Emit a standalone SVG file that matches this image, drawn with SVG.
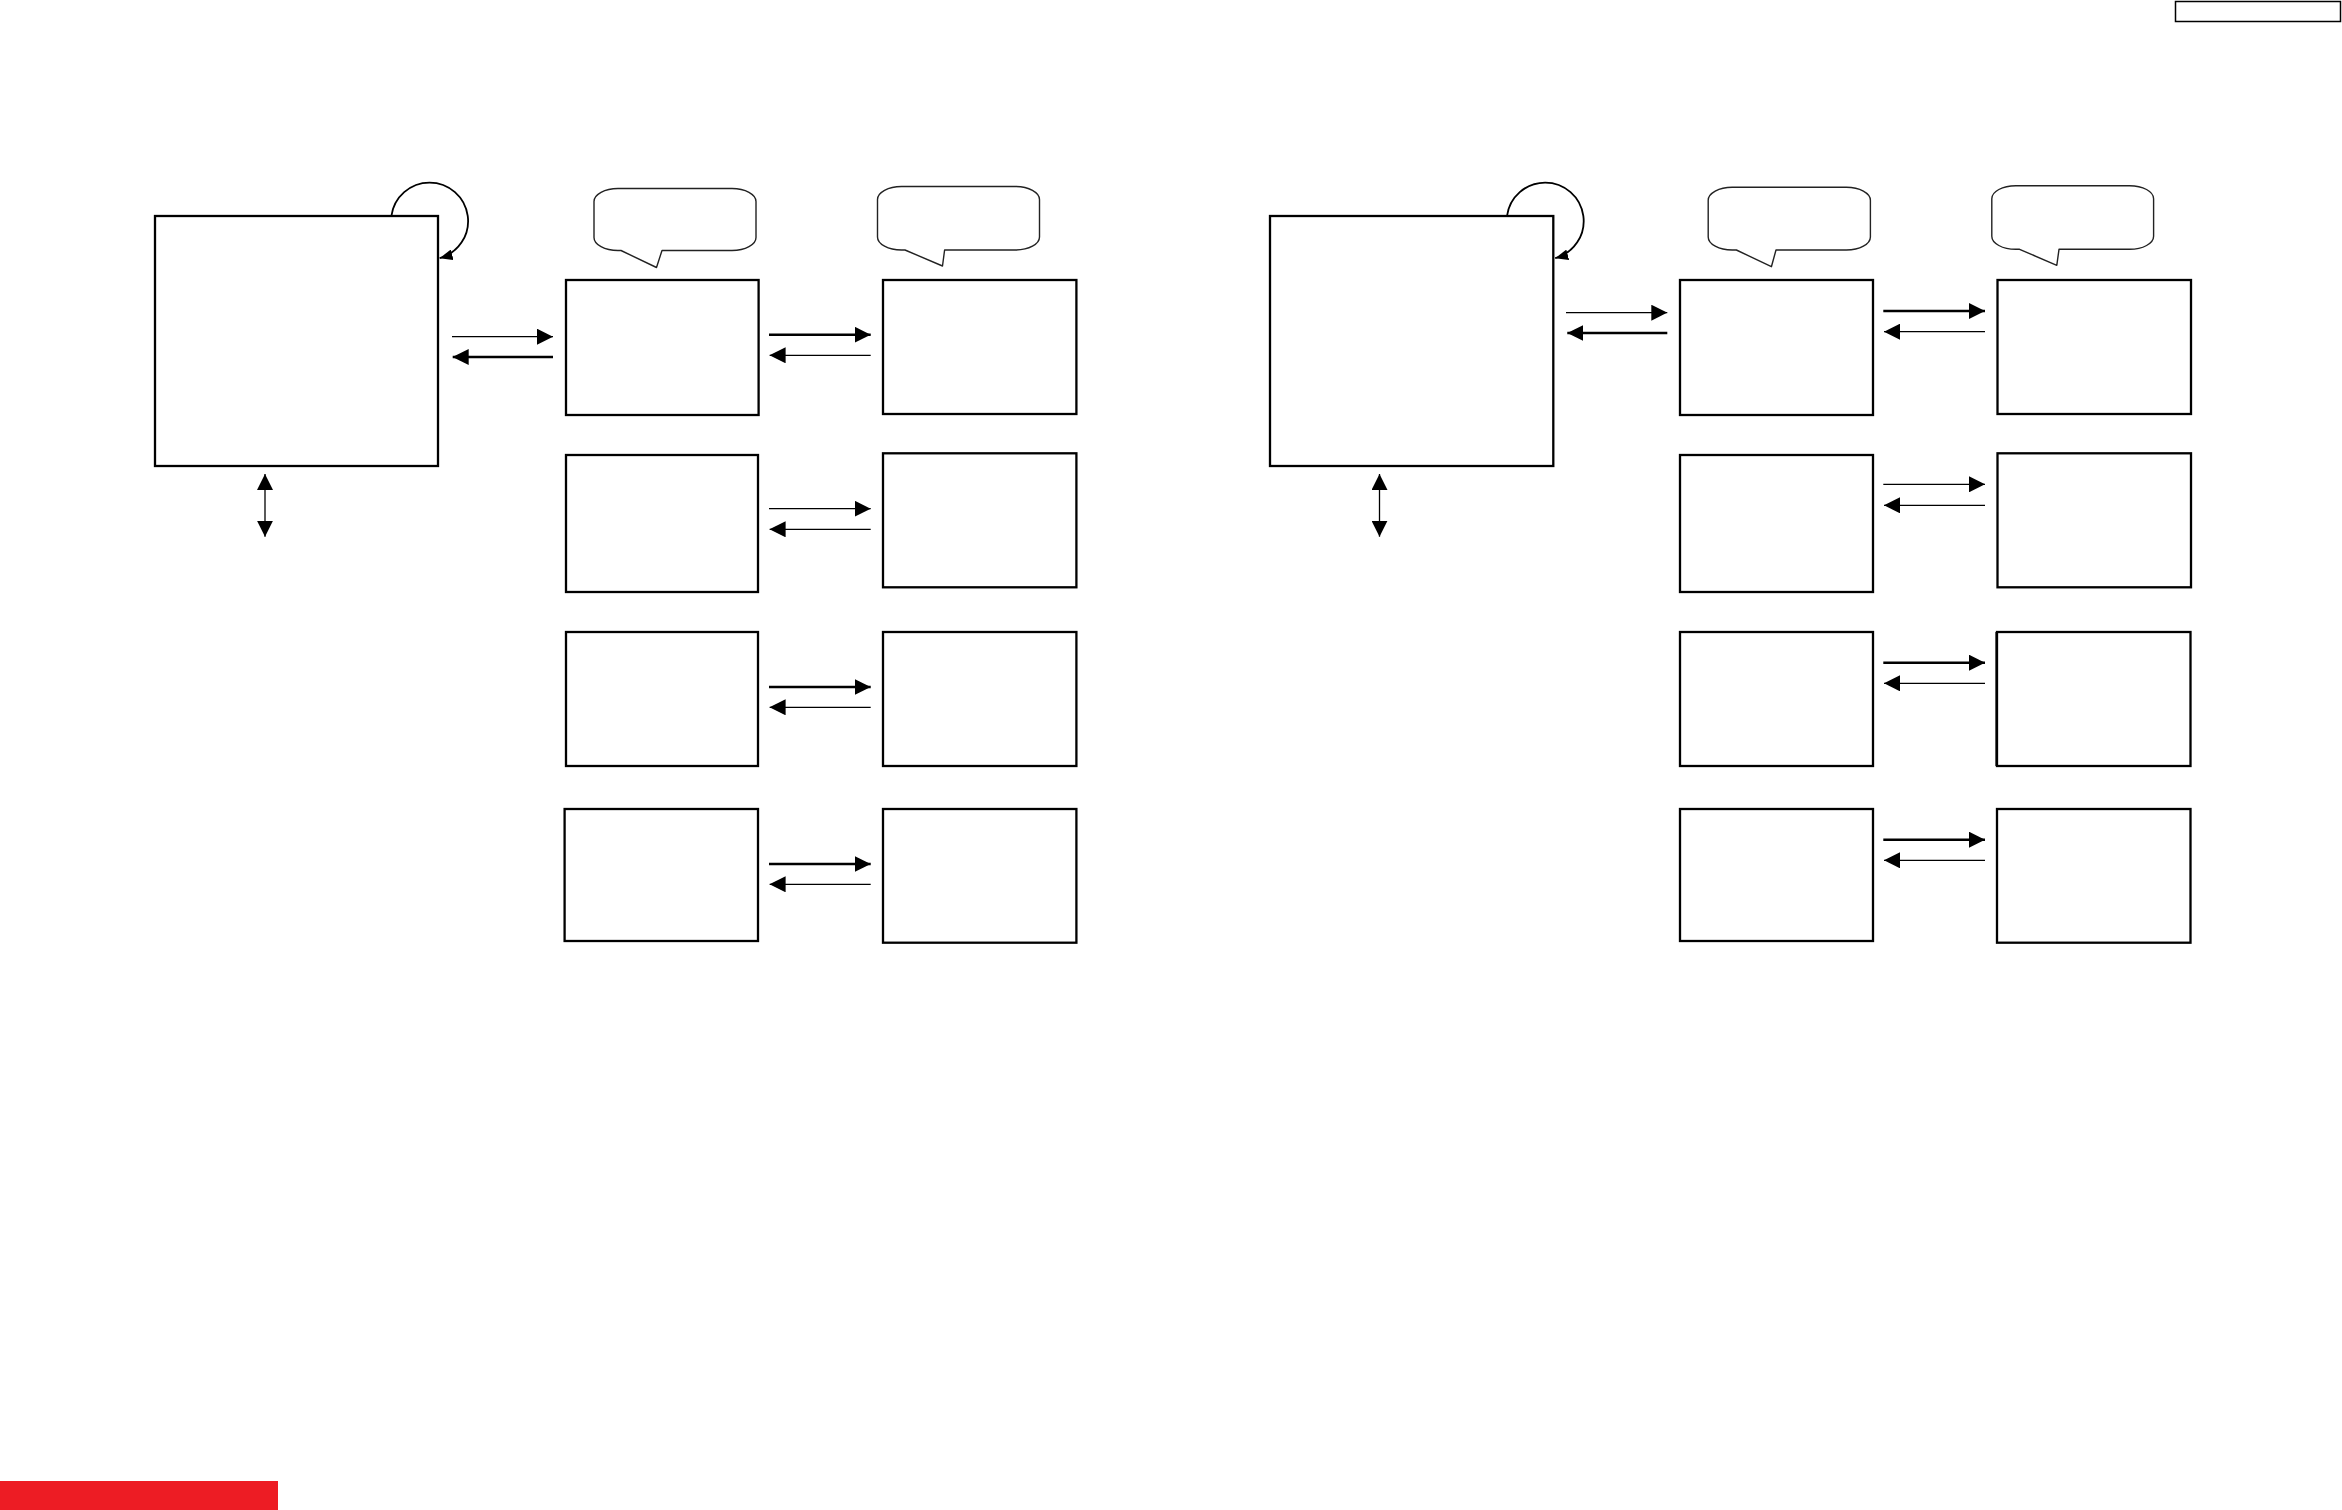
<svg xmlns="http://www.w3.org/2000/svg" width="2342" height="1510" viewBox="0 0 2342 1510">
<style>
.box{fill:#fff;stroke:#000;stroke-width:2.3}
.bub{fill:#fff;stroke:#222;stroke-width:1.4;stroke-linejoin:round}
.thin{stroke:#000;stroke-width:1.3;fill:none}
.thick{stroke:#000;stroke-width:2.4;fill:none}
.loop{stroke:#000;stroke-width:1.8;fill:none}
</style>
<defs>
<marker id="ah" markerUnits="userSpaceOnUse" markerWidth="16" markerHeight="16" viewBox="0 0 15 15" refX="15" refY="7.5" orient="auto-start-reverse">
<path d="M0,0 L15,7.5 L0,15 Z" fill="#000"/>
</marker>
<marker id="ahs" markerUnits="userSpaceOnUse" markerWidth="13" markerHeight="11" viewBox="0 0 12 10" refX="12" refY="5" orient="auto">
<path d="M0,0 L12,5 L0,10 Z" fill="#000"/>
</marker>
</defs>
<rect width="2342" height="1510" fill="#fff"/>

<g id="header-box"><rect x="2175.5" y="1.5" width="165" height="20" fill="#fff" stroke="#000" stroke-width="1.5"/></g>
<g id="red-bar"><rect x="0" y="1481" width="278" height="29" fill="#ED1C24"/></g>

<!-- Left diagram -->
<g id="L-main"><rect class="box" x="155" y="216" width="283" height="250"/></g>
<g id="L-A1"><rect class="box" x="566" y="280" width="192.6" height="135"/></g>
<g id="L-A2"><rect class="box" x="566" y="455" width="192" height="137"/></g>
<g id="L-A3"><rect class="box" x="566" y="632" width="192" height="134"/></g>
<g id="L-A4"><rect class="box" x="564.6" y="809" width="193.4" height="132"/></g>
<g id="L-B1"><rect class="box" x="883" y="280" width="193.4" height="134"/></g>
<g id="L-B2"><rect class="box" x="883" y="453.3" width="193.4" height="134"/></g>
<g id="L-B3"><rect class="box" x="883" y="632" width="193.4" height="134"/></g>
<g id="L-B4"><rect class="box" x="883" y="809" width="193.4" height="133.7"/></g>
<g id="L-callout1"><path class="bub" d="M621,250.5 L656.5,267.5 L662,250.5 L732,250.5 A24,13 0 0 0 756,237.5 L756,201.5 A24,13 0 0 0 732,188.5 L618,188.5 A24,13 0 0 0 594,201.5 L594,237.5 A24,13 0 0 0 618,250.5 Z"/></g>
<g id="L-callout2"><path class="bub" d="M905,250 L942.5,266 L944.6,250 L1015.5,250 A24,13 0 0 0 1039.5,237 L1039.5,199.5 A24,13 0 0 0 1015.5,186.5 L901.5,186.5 A24,13 0 0 0 877.5,199.5 L877.5,237 A24,13 0 0 0 901.5,250 Z"/></g>

<!-- Right diagram -->
<g id="R-main"><rect class="box" x="1270" y="216" width="283.3" height="250"/></g>
<g id="R-A1"><rect class="box" x="1680" y="280" width="193" height="135"/></g>
<g id="R-A2"><rect class="box" x="1680" y="455" width="193" height="137"/></g>
<g id="R-A3"><rect class="box" x="1680" y="632" width="193" height="134"/></g>
<g id="R-A4"><rect class="box" x="1680" y="809" width="193" height="132"/></g>
<g id="R-B1"><rect class="box" x="1997.5" y="280" width="193.5" height="134"/></g>
<g id="R-B2"><rect class="box" x="1997.5" y="453.3" width="193.5" height="134"/></g>
<g id="R-B3"><rect class="box" x="1997" y="632" width="193.5" height="134"/><line x1="1996" y1="632" x2="1996" y2="766" stroke="#000" stroke-width="1.2"/></g>
<g id="R-B4"><rect class="box" x="1997" y="809" width="193.5" height="133.7"/></g>
<g id="R-callout1"><path class="bub" d="M1736.4,250 L1771.4,266.7 L1776,250 L1846.4,250 A24,13 0 0 0 1870.4,237 L1870.4,200.3 A24,13 0 0 0 1846.4,187.3 L1732.2,187.3 A24,13 0 0 0 1708.2,200.3 L1708.2,237 A24,13 0 0 0 1732.2,250 Z"/></g>
<g id="R-callout2"><path class="bub" d="M2019.6,249.3 L2056.8,265.3 L2059,249.3 L2129.6,249.3 A24,13 0 0 0 2153.6,236.3 L2153.6,198.7 A24,13 0 0 0 2129.6,185.7 L2015.8,185.7 A24,13 0 0 0 1991.8,198.7 L1991.8,236.3 A24,13 0 0 0 2015.8,249.3 Z"/></g>

<g id="connectors">
<!-- left -->
<path class="loop" d="M391.4,216 A38.5,38.5 0 1 1 439.6,258.2" marker-end="url(#ahs)"/>
<line class="thin" x1="452" y1="336.7" x2="553" y2="336.7" marker-end="url(#ah)"/>
<line class="thick" x1="553" y1="357" x2="452.7" y2="357" marker-end="url(#ah)"/>
<line class="thin" x1="265" y1="474" x2="265" y2="536.7" stroke-width="1.6" marker-start="url(#ah)" marker-end="url(#ah)"/>
<line class="thick" x1="769" y1="334.7" x2="870.7" y2="334.7" marker-end="url(#ah)"/>
<line class="thin" x1="870.7" y1="355.3" x2="769.6" y2="355.3" marker-end="url(#ah)"/>
<line class="thin" x1="769" y1="508.7" x2="870.7" y2="508.7" marker-end="url(#ah)"/>
<line class="thin" x1="870.7" y1="529.3" x2="769.6" y2="529.3" marker-end="url(#ah)"/>
<line class="thick" x1="769" y1="687" x2="870.7" y2="687" marker-end="url(#ah)"/>
<line class="thin" x1="870.7" y1="707.3" x2="769.6" y2="707.3" marker-end="url(#ah)"/>
<line class="thick" x1="769" y1="864" x2="870.7" y2="864" marker-end="url(#ah)"/>
<line class="thin" x1="870.7" y1="884.3" x2="769.6" y2="884.3" marker-end="url(#ah)"/>
<!-- right -->
<path class="loop" d="M1507,216 A38.5,38.5 0 1 1 1555.2,258.2" marker-end="url(#ahs)"/>
<line class="thin" x1="1566" y1="312.7" x2="1667.3" y2="312.7" marker-end="url(#ah)"/>
<line class="thick" x1="1667.3" y1="333" x2="1567.3" y2="333" marker-end="url(#ah)"/>
<line class="thin" x1="1379.5" y1="474" x2="1379.5" y2="536.7" stroke-width="1.6" marker-start="url(#ah)" marker-end="url(#ah)"/>
<line class="thick" x1="1883.3" y1="311" x2="1985" y2="311" marker-end="url(#ah)"/>
<line class="thin" x1="1985" y1="331.7" x2="1884" y2="331.7" marker-end="url(#ah)"/>
<line class="thin" x1="1883.3" y1="484.3" x2="1985" y2="484.3" marker-end="url(#ah)"/>
<line class="thin" x1="1985" y1="505.3" x2="1884" y2="505.3" marker-end="url(#ah)"/>
<line class="thick" x1="1883.3" y1="662.7" x2="1985" y2="662.7" marker-end="url(#ah)"/>
<line class="thin" x1="1985" y1="683.3" x2="1884" y2="683.3" marker-end="url(#ah)"/>
<line class="thick" x1="1883.3" y1="839.7" x2="1985" y2="839.7" marker-end="url(#ah)"/>
<line class="thin" x1="1985" y1="860.3" x2="1884" y2="860.3" marker-end="url(#ah)"/>
</g>
</svg>
